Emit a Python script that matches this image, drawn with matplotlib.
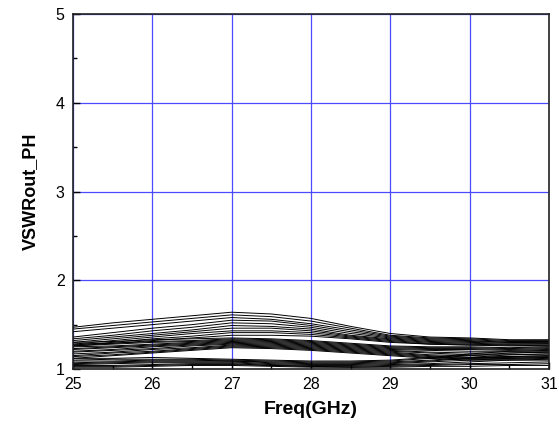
import numpy as np
import matplotlib.pyplot as plt
from matplotlib.ticker import MultipleLocator

plt.rcParams['font.family'] = ['Liberation Sans', 'DejaVu Sans']

freq = [25, 25.5, 26, 26.5, 27, 27.5, 28, 28.5, 29, 29.5, 30, 30.5, 31]

# upper spread group
a1 = [1.47, 1.52, 1.56, 1.60, 1.64, 1.62, 1.57, 1.48, 1.40, 1.36, 1.35, 1.33, 1.33]
a2 = [1.45, 1.49, 1.53, 1.57, 1.61, 1.59, 1.54, 1.46, 1.38, 1.35, 1.34, 1.32, 1.32]
a3 = [1.42, 1.46, 1.50, 1.54, 1.58, 1.56, 1.51, 1.44, 1.37, 1.34, 1.33, 1.31, 1.31]
a4 = [1.36, 1.41, 1.46, 1.50, 1.55, 1.54, 1.49, 1.42, 1.36, 1.33, 1.32, 1.30, 1.30]
a5 = [1.34, 1.38, 1.43, 1.47, 1.52, 1.51, 1.47, 1.40, 1.35, 1.32, 1.31, 1.30, 1.29]
a6 = [1.32, 1.36, 1.40, 1.44, 1.49, 1.48, 1.45, 1.38, 1.34, 1.31, 1.30, 1.29, 1.29]
a7 = [1.30, 1.34, 1.38, 1.42, 1.46, 1.46, 1.43, 1.37, 1.33, 1.30, 1.29, 1.28, 1.28]
a8 = [1.28, 1.32, 1.36, 1.40, 1.43, 1.43, 1.41, 1.36, 1.32, 1.29, 1.28, 1.27, 1.27]
a9 = [1.27, 1.30, 1.34, 1.37, 1.41, 1.41, 1.39, 1.35, 1.31, 1.28, 1.27, 1.27, 1.26]
a10 = [1.26, 1.29, 1.32, 1.35, 1.38, 1.38, 1.37, 1.34, 1.30, 1.28, 1.27, 1.26, 1.26]

# dense middle band
b1 = [1.30, 1.31, 1.33, 1.34, 1.35, 1.34, 1.32, 1.29, 1.26, 1.25, 1.25, 1.24, 1.25]
b2 = [1.28, 1.29, 1.31, 1.32, 1.34, 1.33, 1.31, 1.28, 1.25, 1.24, 1.24, 1.23, 1.24]
b3 = [1.26, 1.28, 1.30, 1.31, 1.33, 1.32, 1.30, 1.27, 1.24, 1.23, 1.23, 1.22, 1.23]
b4 = [1.25, 1.26, 1.28, 1.30, 1.32, 1.31, 1.29, 1.26, 1.23, 1.22, 1.22, 1.21, 1.22]
b5 = [1.23, 1.25, 1.27, 1.29, 1.31, 1.30, 1.28, 1.25, 1.22, 1.21, 1.20, 1.20, 1.21]
b6 = [1.22, 1.24, 1.26, 1.28, 1.30, 1.29, 1.27, 1.24, 1.21, 1.19, 1.18, 1.18, 1.19]
b7 = [1.20, 1.22, 1.25, 1.27, 1.29, 1.28, 1.26, 1.23, 1.20, 1.18, 1.16, 1.16, 1.17]
b8 = [1.19, 1.21, 1.23, 1.26, 1.28, 1.27, 1.25, 1.22, 1.19, 1.16, 1.15, 1.14, 1.15]
b9 = [1.17, 1.19, 1.22, 1.24, 1.27, 1.26, 1.24, 1.21, 1.18, 1.15, 1.13, 1.13, 1.14]
b10 = [1.15, 1.18, 1.20, 1.23, 1.26, 1.25, 1.23, 1.20, 1.17, 1.14, 1.12, 1.12, 1.13]
b11 = [1.14, 1.16, 1.19, 1.22, 1.25, 1.24, 1.22, 1.19, 1.16, 1.13, 1.11, 1.11, 1.12]
b12 = [1.12, 1.15, 1.18, 1.21, 1.24, 1.23, 1.21, 1.18, 1.15, 1.12, 1.10, 1.10, 1.11]

# lower group
c1 = [1.12, 1.12, 1.13, 1.12, 1.11, 1.10, 1.09, 1.09, 1.10, 1.13, 1.17, 1.20, 1.20]
c2 = [1.10, 1.11, 1.11, 1.11, 1.10, 1.09, 1.08, 1.08, 1.09, 1.12, 1.15, 1.18, 1.19]
c3 = [1.09, 1.09, 1.10, 1.10, 1.09, 1.08, 1.07, 1.07, 1.08, 1.10, 1.13, 1.16, 1.17]
c4 = [1.07, 1.08, 1.09, 1.09, 1.09, 1.07, 1.06, 1.06, 1.07, 1.09, 1.12, 1.14, 1.15]
c5 = [1.06, 1.07, 1.08, 1.08, 1.08, 1.06, 1.05, 1.05, 1.06, 1.08, 1.10, 1.12, 1.13]
c6 = [1.05, 1.06, 1.07, 1.07, 1.07, 1.05, 1.04, 1.04, 1.05, 1.06, 1.08, 1.10, 1.10]
c7 = [1.04, 1.04, 1.05, 1.06, 1.06, 1.04, 1.03, 1.03, 1.04, 1.05, 1.06, 1.07, 1.08]
c8 = [1.03, 1.03, 1.04, 1.05, 1.05, 1.04, 1.03, 1.02, 1.03, 1.04, 1.05, 1.05, 1.06]
c9 = [1.02, 1.02, 1.03, 1.04, 1.04, 1.03, 1.02, 1.02, 1.02, 1.03, 1.03, 1.04, 1.04]

curves = [a1, a2, a3, a4, a5, a6, a7, a8, a9, a10,
          b1, b2, b3, b4, b5, b6, b7, b8, b9, b10, b11, b12,
          c1, c2, c3, c4, c5, c6, c7, c8, c9]

fig = plt.figure(figsize=(5.59, 4.26), dpi=100)
ax = fig.add_axes([0.1306, 0.1338, 0.8515, 0.8333])

ax.grid(True, which='major', color='#4a4aff', linewidth=0.9)
ax.set_axisbelow(True)

for c in curves:
    ax.plot(freq, c, color='black', linewidth=0.7)

ax.set_xlim(25, 31)
ax.set_ylim(1, 5)
ax.xaxis.set_major_locator(MultipleLocator(1))
ax.xaxis.set_minor_locator(MultipleLocator(0.5))
ax.yaxis.set_major_locator(MultipleLocator(1))
ax.yaxis.set_minor_locator(MultipleLocator(0.5))
ax.tick_params(which='major', direction='in', length=5, width=1, labelsize=11.5, pad=6)
ax.tick_params(which='minor', direction='in', length=3, width=1)

for s in ax.spines.values():
    s.set_linewidth(1.2)
    s.set_color('#222222')

ax.set_xlabel('Freq(GHz)', fontsize=14, fontweight='bold', labelpad=6)
ax.set_ylabel('VSWRout_PH', fontsize=13, fontweight='bold', labelpad=12)

fig.savefig('out.png', dpi=100)
